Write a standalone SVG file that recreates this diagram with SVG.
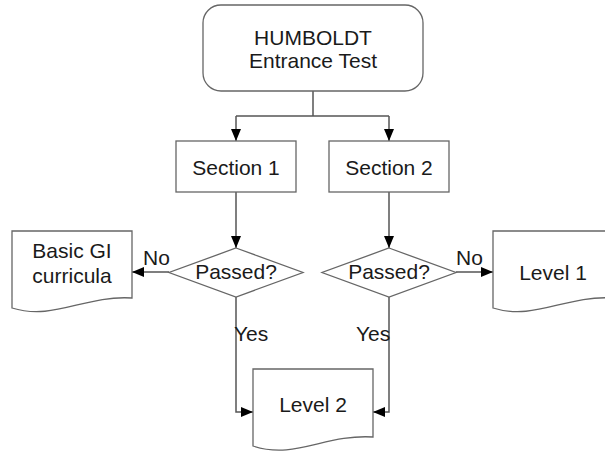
<svg xmlns="http://www.w3.org/2000/svg" width="605" height="452" viewBox="0 0 605 452">
<defs>
<marker id="arr" markerUnits="userSpaceOnUse" markerWidth="13" markerHeight="11" refX="12" refY="5.5" orient="auto">
<path d="M0,0.5 L12,5.5 L0,10.5 Z" fill="#000"/>
</marker>
<style>
.box{fill:#fff;stroke:#666;stroke-width:1.3}
.t{font-family:"Liberation Sans",Arial,sans-serif;font-size:21px;fill:#1a1a1a;text-anchor:middle}
.lbl{font-family:"Liberation Sans",Arial,sans-serif;font-size:21px;fill:#1a1a1a}
.c{fill:none;stroke:#555;stroke-width:1.5}
</style>
</defs>
<rect width="605" height="452" fill="#fff"/>
<g id="connectors">
<path class="c" d="M313,91 V116"/>
<path class="c" d="M236,116 H389"/>
<path class="c" d="M236,116 V141" marker-end="url(#arr)"/>
<path class="c" d="M389,116 V141" marker-end="url(#arr)"/>
<path class="c" d="M236,192 V248" marker-end="url(#arr)"/>
<path class="c" d="M389,192 V248" marker-end="url(#arr)"/>
<path class="c" d="M169,272 H132" marker-end="url(#arr)"/>
<path class="c" d="M456,272 H493" marker-end="url(#arr)"/>
<path class="c" d="M236,297 V412 H253" marker-end="url(#arr)"/>
<path class="c" d="M389,297 V412 H373" marker-end="url(#arr)"/>
<text class="lbl" x="143" y="265">No</text>
<text class="lbl" x="456" y="265">No</text>
<text class="lbl" x="234" y="341">Yes</text>
<text class="lbl" x="356" y="341">Yes</text>
</g>
<g id="start">
<rect class="box" x="203" y="5" width="220" height="86" rx="18"/>
<text class="t" x="313" y="45">HUMBOLDT</text>
<text class="t" x="313" y="68">Entrance Test</text>
</g>
<g id="section1">
<rect class="box" x="176" y="141" width="120" height="51"/>
<text class="t" x="236" y="175">Section 1</text>
</g>
<g id="section2">
<rect class="box" x="329" y="141" width="120" height="51"/>
<text class="t" x="389" y="175">Section 2</text>
</g>
<g id="passed1">
<path class="box" d="M236,248 L303,272.5 L236,297 L169,272.5 Z"/>
<text class="t" x="236" y="279">Passed?</text>
</g>
<g id="passed2">
<path class="box" d="M389,248 L456,272.5 L389,297 L322,272.5 Z"/>
<text class="t" x="389" y="279">Passed?</text>
</g>
<g id="basic">
<path class="box" d="M12,308 V231 H132 V298 C84,295 54,321 12,308 Z"/>
<text class="t" x="72" y="258">Basic GI</text>
<text class="t" x="72" y="283">curricula</text>
</g>
<g id="level1">
<path class="box" d="M493,308 V231 H613 V298 C565,295 535,321 493,308 Z"/>
<text class="t" x="553" y="280">Level 1</text>
</g>
<g id="level2">
<path class="box" d="M253,446 V369 H373 V437 C325,434 295,460 253,446 Z"/>
<text class="t" x="313" y="412">Level 2</text>
</g>
</svg>
